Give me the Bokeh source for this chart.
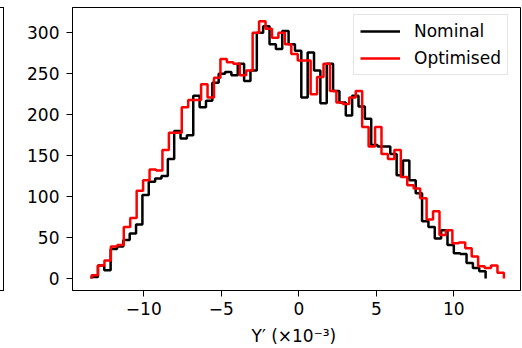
from bokeh.plotting import figure
from bokeh.models import Range1d, FixedTicker, Legend, LegendItem, Div
from bokeh.layouts import row
from bokeh.embed import file_html
from bokeh.resources import INLINE
import numpy as np

# ---- data ----
nominal_range = (-13.37, 12.05)      # x (×10^-3) bin range of the Nominal histogram
optimised_range = (-13.37, 13.23)    # x (×10^-3) bin range of the Optimised histogram

nominal_counts = [2, 16, 10, 36, 39, 47, 55, 66, 102, 118,
                  122, 125, 146, 180, 171, 175, 223, 209, 217, 239,
                  250, 252, 248, 262, 241, 254, 300, 308, 286, 280,
                  302, 286, 278, 221, 276, 254, 214, 262, 229, 215,
                  199, 223, 210, 195, 163, 161, 161, 152, 126, 144,
                  120, 104, 70, 63, 49, 59, 41, 31, 30, 19,
                  13, 9]

optimised_counts = [4, 16, 22, 39, 41, 63, 74, 107, 120, 133,
                    132, 157, 178, 178, 209, 218, 218, 237, 221, 245,
                    268, 264, 262, 248, 254, 300, 314, 305, 294, 300,
                    286, 274, 266, 266, 225, 246, 262, 229, 215, 213,
                    221, 229, 185, 161, 185, 152, 146, 157, 124, 114,
                    110, 98, 72, 82, 53, 59, 43, 44, 37, 27,
                    15, 13, 16, 7]

series_names = ["Nominal", "Optimised"]
x_ticks = [-10, -5, 0, 5, 10]
x_tick_labels = ["\u221210", "\u22125", "0", "5", "10"]
y_ticks = [0, 50, 100, 150, 200, 250, 300]


def step_outline(rng, counts):
    edges = np.linspace(rng[0], rng[1], len(counts) + 1)
    xs, ys = [edges[0]], [0]
    for i, c in enumerate(counts):
        xs += [edges[i], edges[i + 1]]
        ys += [c, c]
    xs.append(edges[-1])
    ys.append(0)
    return xs, ys


FONT = "DejaVu Sans"
FS = "17px"

p = figure(width=518, height=348, output_backend="svg", toolbar_location=None,
           x_range=Range1d(-14.6, 14.3), y_range=Range1d(-14.6, 330.8),
           min_border_left=68, min_border_right=2, min_border_top=7, min_border_bottom=57)
p.grid.visible = False
p.outline_line_color = "black"
p.outline_line_width = 1
p.background_fill_color = "white"
p.border_fill_color = "white"

for ax in (p.xaxis[0], p.yaxis[0]):
    ax.major_tick_out = 6
    ax.major_tick_in = 0
    ax.minor_tick_out = 0
    ax.minor_tick_in = 0
    ax.major_tick_line_color = "black"
    ax.axis_line_color = "black"
    ax.major_label_text_font = FONT
    ax.major_label_text_font_size = FS
    ax.major_label_text_color = "black"

p.xaxis.ticker = FixedTicker(ticks=x_ticks)
p.xaxis.major_label_overrides = {t: l for t, l in zip(x_ticks, x_tick_labels)}
p.xaxis.major_label_standoff = 5
p.xaxis.axis_label = "Y\u2032  (\u00d710\u207b\u00b3)"
p.xaxis.axis_label_text_font = FONT
p.xaxis.axis_label_text_font_size = FS
p.xaxis.axis_label_text_font_style = "normal"
p.xaxis.axis_label_text_color = "black"
p.xaxis.axis_label_standoff = 8

p.yaxis.ticker = FixedTicker(ticks=y_ticks)
p.yaxis.major_label_standoff = 7

xs_n, ys_n = step_outline(nominal_range, nominal_counts)
xs_o, ys_o = step_outline(optimised_range, optimised_counts)
r_n = p.line(xs_n, ys_n, line_color="black", line_width=2.5)
r_o = p.line(xs_o, ys_o, line_color="#ff0000", line_width=2.5)

legend = Legend(items=[LegendItem(label=series_names[0], renderers=[r_n]),
                       LegendItem(label=series_names[1], renderers=[r_o])],
                location=(281, 215), margin=0, padding=6, spacing=7,
                glyph_width=40, glyph_height=20, label_height=20, label_standoff=14,
                label_text_font=FONT, label_text_font_size=FS, label_text_color="black",
                border_line_color="#cccccc", border_line_width=1,
                background_fill_color="white", background_fill_alpha=0.8)
p.add_layout(legend)

left_box = Div(width=4, height=284, margin=(7, 0, 0, 0),
               styles={"border-top": "1px solid black", "border-right": "1px solid black",
                       "border-bottom": "1px solid black", "box-sizing": "border-box"})

layout = row(left_box, p, spacing=0)
open("out.html", "w").write(file_html(layout, INLINE))
